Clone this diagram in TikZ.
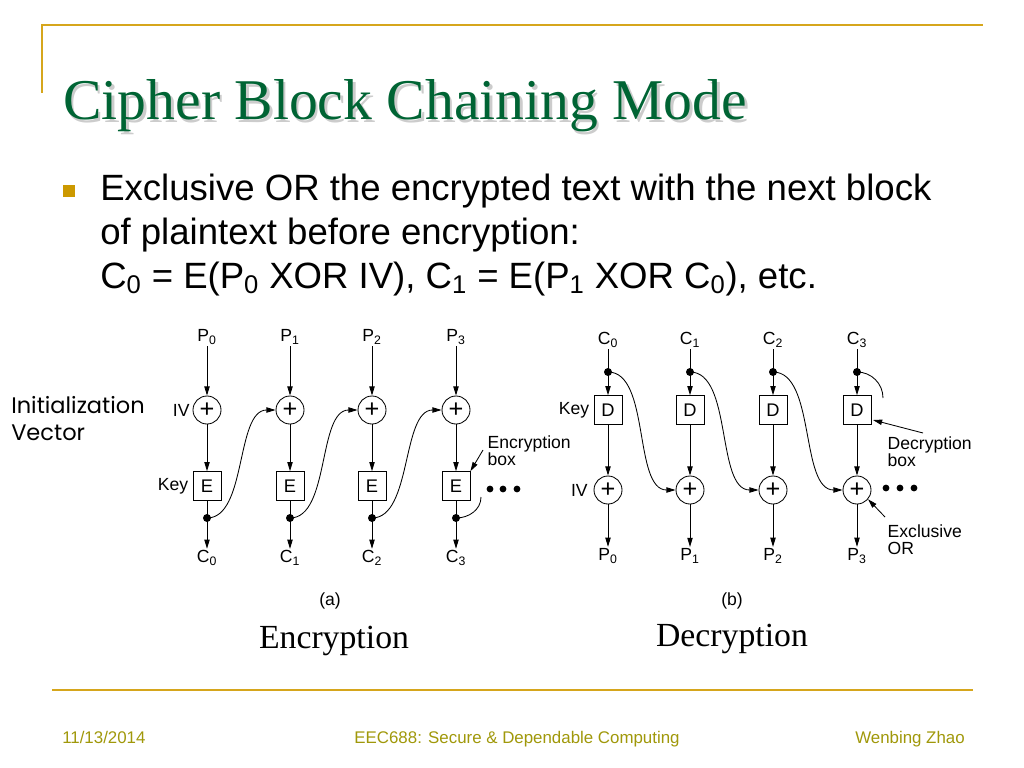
\documentclass[tikz,border=0pt]{standalone}
\usepackage{fontspec}
\setmainfont{Liberation Sans}
\newfontfamily\ttlserif{Liberation Serif}
\newfontfamily\handfont{Poppins}
\usetikzlibrary{positioning,arrows.meta,calc}
\definecolor{ttlgreen}{RGB}{0,100,52}
\definecolor{rulegold}{RGB}{214,166,28}
\definecolor{bulgold}{RGB}{204,153,0}
\definecolor{footolive}{RGB}{160,152,10}
\newcommand{\lo}[1]{\textsubscript{#1}}

\begin{document}
\begin{tikzpicture}[x=0.025cm, y=-0.025cm,
  lbl/.style={font=\fontsize{12.5}{13}\selectfont, inner sep=1pt},
  xorc/.style={draw, circle, line width=0.6pt, minimum size=0.7cm, inner sep=0pt, font=\fontsize{18}{18}\selectfont},
  cbox/.style={draw, rectangle, line width=0.6pt, minimum width=0.7cm, minimum height=0.72cm, inner sep=0pt, font=\fontsize{13}{13}\selectfont},
  jdot/.style={circle, fill, minimum size=0.2cm, inner sep=0pt},
  flow/.style={-{Triangle[length=6.5pt,width=3.8pt]}, line width=0.6pt},
  feed/.style={line width=0.6pt},
  bodytxt/.style={anchor=base west, inner sep=0pt, font=\fontsize{26}{26}\selectfont},
  foot/.style={inner sep=0pt, footolive, font=\fontsize{12}{12}\selectfont}]
\useasboundingbox (0,0) rectangle (1024,768);

% frame rules
\draw[rulegold, line width=1.6pt] (42,93) -- (42,25) -- (983,25);
\draw[rulegold, line width=1.6pt] (52,690) -- (973,690);

% title with its shadow
\node[anchor=base west, inner sep=0pt, gray!40, font=\ttlserif\fontsize{41}{41}\selectfont] (ttlshadow) at (65.5,122.5) {Cipher Block Chaining Mode};
\node[anchor=base west, inner sep=0pt, ttlgreen, font=\ttlserif\fontsize{41}{41}\selectfont] (ttl) at (63,120) {Cipher Block Chaining Mode};

% bullet
\fill[bulgold] (63,185) rectangle (75,197);
\node[bodytxt] (bl1) at (100,200) {Exclusive OR the encrypted text with the next block};
\node[bodytxt] (bl2) at (100,244) {of plaintext before encryption:};
\node[bodytxt] (bl3) at (100,288) {C\lo{0} = E(P\lo{0} XOR IV), C\lo{1} = E(P\lo{1} XOR C\lo{0}), etc.};

% (a) encryption chain
\foreach \i/\xx in {0/207,1/290,2/372,3/456} {
  \node[lbl] (p\i) at (\xx,337) {P\lo{\i}};
  \node[xorc] (x\i) at (\xx,410) {+};
  \node[cbox] (e\i) at (\xx,486) {E};
  \node[jdot] (k\i) at (\xx,518) {};
  \node[lbl] (c\i) at (\xx,558) {C\lo{\i}};
  \draw[flow] (p\i) -- (x\i);
  \draw[flow] (x\i) -- (e\i);
  \draw[flow] (e\i) -- (c\i);
}
\foreach \i/\j in {0/1,1/2,2/3}
  \draw[flow] (k\i.center) to[out=0, in=180, looseness=0.8] (x\j.west);
\coordinate (eend) at (481,497);
\draw[feed] (k3.center) to[out=0, in=-90] (eend);
\foreach \xx in {490,503,517} \fill (\xx,489) circle (0.085cm);

\node[lbl, left=1pt of x0] (iva) {IV};
\node[lbl, left=2pt of e0] (keya) {Key};
\node[lbl, anchor=west, align=left] (encbox) at (486,451) {Encryption\\[-1pt]box};
\coordinate (encptr) at (483,450);
\draw[flow] (encptr) -- (e3.north east);

\node[anchor=north west, inner sep=0pt, align=left, font=\handfont\fontsize{16}{19.2}\selectfont] (ivtxt) at (11,396) {Initialization\\Vector};

% (b) decryption chain
\foreach \i/\xx in {0/608,1/690,2/773,3/857} {
  \node[lbl] (cc\i) at (\xx,340) {C\lo{\i}};
  \node[jdot] (t\i) at (\xx,372) {};
  \node[cbox] (dd\i) at (\xx,410) {D};
  \node[xorc] (y\i) at (\xx,490) {+};
  \node[lbl] (pp\i) at (\xx,556) {P\lo{\i}};
  \draw[flow] (cc\i) -- (dd\i);
  \draw[flow] (dd\i) -- (y\i);
  \draw[flow] (y\i) -- (pp\i);
}
\foreach \i/\j in {0/1,1/2,2/3}
  \draw[flow] (t\i.center) to[out=0, in=180, looseness=0.8] (y\j.west);
\coordinate (dend) at (883,398);
\draw[feed] (t3.center) to[out=0, in=90] (dend);
\foreach \xx in {886,900,914} \fill (\xx,488) circle (0.085cm);

\node[lbl, left=3pt of y0] (ivb) {IV};
\node[lbl, left=2pt of dd0] (keyb) {Key};
\node[lbl, anchor=west, align=left] (decbox) at (886,452) {Decryption\\[-1pt]box};
\coordinate (decptr) at (923,433);
\draw[flow] (decptr) -- (873,420);
\node[lbl, anchor=west, align=left] (xorlbl) at (886,540) {Exclusive\\[-1pt]OR};
\coordinate (xorptr) at (885,517);
\draw[flow] (xorptr) -- (y3.-40);

% captions
\node[lbl] (capa) at (330,601) {(a)};
\node[lbl] (capb) at (732,601) {(b)};
\node[anchor=base, inner sep=0pt, font=\ttlserif\fontsize{24}{24}\selectfont] (enccap) at (334,648) {Encryption};
\node[anchor=base, inner sep=0pt, font=\ttlserif\fontsize{24}{24}\selectfont] (deccap) at (732,646) {Decryption};

% footer
\node[foot, anchor=base west] (fdate) at (62,743) {11/13/2014};
\node[foot, anchor=base] (fcourse) at (517,743) {EEC688: Secure \& Dependable Computing};
\node[foot, anchor=base east] (fauthor) at (965,743) {Wenbing Zhao};
\end{tikzpicture}
\end{document}
